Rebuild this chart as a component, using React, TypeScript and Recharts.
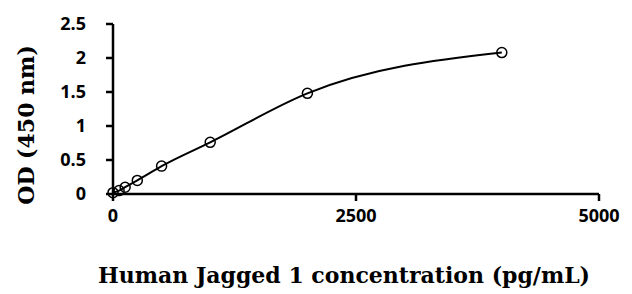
import React from 'react';
import { ComposedChart, Line, XAxis, YAxis, Label } from 'recharts';

const concentrations = [0, 62.5, 125, 250, 500, 1000, 2000, 4000];
const odValues = [0.02, 0.05, 0.1, 0.2, 0.41, 0.76, 1.48, 2.08];
const xTicks = [0, 2500, 5000];
const yTicks = [0, 0.5, 1, 1.5, 2, 2.5];
const yTickLabels = ['0', '0.5', '1', '1.5', '2', '2.5'];

const data = concentrations.map((c, i) => ({ conc: c, od: odValues[i] }));

const tickFont = { fontFamily: 'Open Sans', fontWeight: 'bold', fontSize: 18, fill: '#000' };
const titleFont = { fontFamily: 'DejaVu Serif', fontWeight: 'bold', fontSize: 22, fill: '#000' };

const HollowDot = (props: any) => {
  const { cx, cy } = props;
  if (cx == null || cy == null) return null;
  return <circle cx={cx} cy={cy} r={5} fill="none" stroke="#000" strokeWidth={1.5} />;
};

export default function App() {
  return (
    <div style={{ position: 'absolute', left: 0, top: 0, background: '#fff' }}>
      <ComposedChart width={632} height={294} data={data} margin={{ top: 24, right: 33, bottom: 0, left: 0 }}>
        <XAxis
          dataKey="conc"
          type="number"
          domain={[0, 5000]}
          ticks={xTicks}
          interval={0}
          axisLine={{ stroke: '#000', strokeWidth: 2.5 }}
          tickLine={{ stroke: '#000', strokeWidth: 2.5 }}
          tickSize={7}
          tickMargin={8}
          tick={tickFont}
          height={100}
        >
          <Label
            content={(p: any) => {
              const vb = p.viewBox;
              return (
                <text x={vb.x + vb.width / 2 - 12} y={283} textAnchor="middle" {...(titleFont as any)}>
                  Human Jagged 1 concentration (pg/mL)
                </text>
              );
            }}
          />
        </XAxis>
        <YAxis
          type="number"
          domain={[0, 2.5]}
          ticks={yTicks}
          interval={0}
          tickFormatter={(v: number) => yTickLabels[yTicks.indexOf(v)] ?? String(v)}
          axisLine={{ stroke: '#000', strokeWidth: 2.5 }}
          tickLine={{ stroke: '#000', strokeWidth: 2.5 }}
          tickSize={7}
          tickMargin={20}
          tick={tickFont}
          width={113}
        >
          <Label
            content={(p: any) => {
              const vb = p.viewBox;
              const cx = 34;
              const cy = vb.y + vb.height / 2 + 16;
              return (
                <text x={cx} y={cy} textAnchor="middle" transform={`rotate(-90 ${cx} ${cy})`} {...(titleFont as any)}>
                  OD (450 nm)
                </text>
              );
            }}
          />
        </YAxis>
        <Line
          type="monotone"
          dataKey="od"
          stroke="#000"
          strokeWidth={2}
          dot={<HollowDot />}
          activeDot={false}
          isAnimationActive={false}
        />
      </ComposedChart>
    </div>
  );
}
